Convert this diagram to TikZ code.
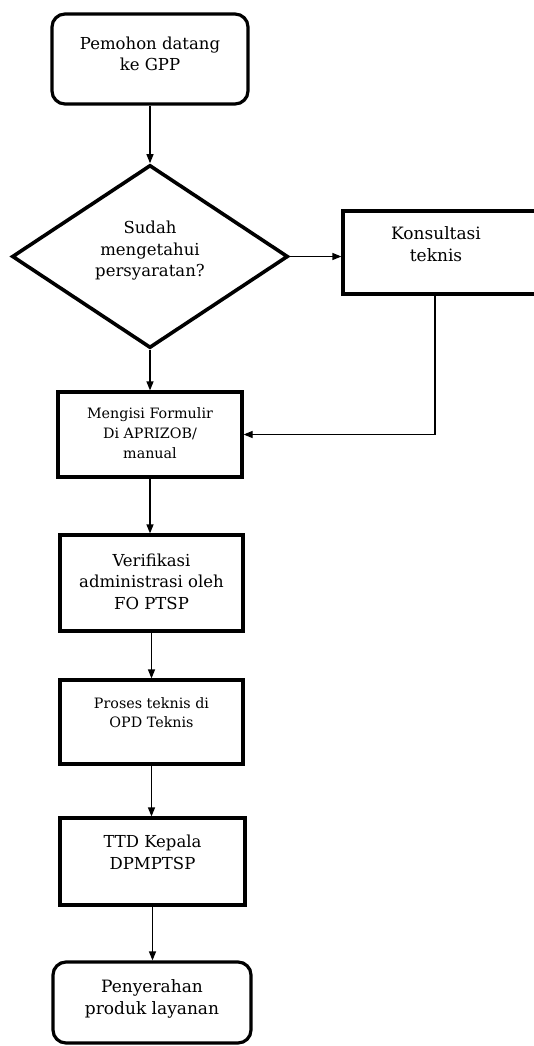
\documentclass[tikz,border=0pt]{standalone}
\usepackage{fontspec}
\setmainfont{DejaVu Serif}
\usetikzlibrary{arrows.meta,shapes.geometric}
\begin{document}
\begin{tikzpicture}[x=1pt,y=-1pt,
  frame/.style={draw,line width=3.2pt,inner sep=0pt},
  rframe/.style={frame,rounded corners=13pt},
  dia/.style={draw,diamond,line width=3.6pt,inner sep=0pt},
  txt/.style={align=center,inner sep=0pt,font=\fontsize{16.5}{21.5}\selectfont},
  arr/.style={line width=1.2pt,-{Triangle[length=9pt,width=7pt]}}]
\useasboundingbox[fill=white] (0,0) rectangle (533,1046);
% shapes
\node[rframe,minimum width=196pt,minimum height=90pt] (start) at (150,59) {};
\node[dia,minimum width=276pt,minimum height=183pt] (dec) at (150,256.5) {};
\node[frame,minimum width=194pt,minimum height=83pt] (kons) at (440,252.5) {};
\node[frame,minimum width=184pt,minimum height=85pt] (form) at (150,434.5) {};
\node[frame,minimum width=183pt,minimum height=96pt] (verif) at (151.5,583) {};
\node[frame,minimum width=183pt,minimum height=84pt] (proses) at (151.5,722) {};
\node[frame,minimum width=185pt,minimum height=87pt] (ttd) at (152.5,861.5) {};
\node[rframe,minimum width=198pt,minimum height=81pt] (end) at (152,1002.5) {};
% texts
\node[txt] (start-t) at (150,54) {Pemohon datang\\ke GPP};
\node[txt] (dec-t) at (150,251) {Sudah\\mengetahui\\persyaratan?};
\node[txt,font=\fontsize{17}{22}\selectfont] (kons-t) at (436,244) {Konsultasi\\teknis};
\node[txt,font=\fontsize{14.3}{20}\selectfont] (form-t) at (150,433.5) {Mengisi Formulir\\Di APRIZOB/\\manual};
\node[txt] (verif-t) at (151.5,581.5) {Verifikasi\\administrasi oleh\\FO PTSP};
\node[txt,font=\fontsize{14.3}{19}\selectfont] (proses-t) at (151.5,712.5) {Proses teknis di\\OPD Teknis};
\node[txt] (ttd-t) at (152.5,852.5) {TTD Kepala\\DPMPTSP};
\node[txt,font=\fontsize{17}{22}\selectfont] (end-t) at (152,999) {Penyerahan\\produk layanan};
% connectors
\draw[arr] (start.south) -- (start.south |- dec.north);
\draw[arr] (dec.east) -- (dec.east -| kons.west);
\draw[arr] (dec.south) -- (dec.south |- form.north);
\draw[arr] ([xshift=-5pt]kons.south) |- (form.east);
\draw[arr] (form.south) -- (form.south |- verif.north);
\draw[arr] (verif.south) -- (verif.south |- proses.north);
\draw[arr] (proses.south) -- (proses.south |- ttd.north);
\draw[arr] (ttd.south) -- (ttd.south |- end.north);
\end{tikzpicture}
\end{document}
